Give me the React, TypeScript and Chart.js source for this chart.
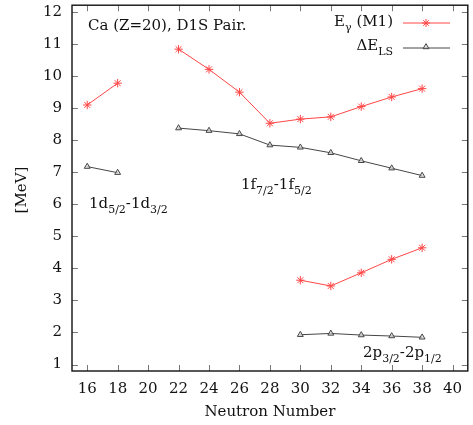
import React, { useEffect, useRef } from 'react';
import { Chart, registerables } from 'chart.js';

Chart.register(...registerables);

// Data (Neutron number vs energy, MeV)
const neutronsD1F = [16, 18, 20, 22, 24, 26, 28, 30, 32, 34, 36, 38];
const eGammaD1F = [9.09, 9.77, null, 10.83, 10.2, 9.49, 8.52, 8.65, 8.72, 9.04, 9.34, 9.6];
const deltaLsD1F = [7.17, 6.98, null, 8.37, 8.29, 8.19, 7.84, 7.77, 7.6, 7.35, 7.12, 6.89];
const neutronsP = [30, 32, 34, 36, 38];
const eGammaP = [3.63, 3.45, 3.86, 4.28, 4.64];
const deltaLsP = [1.93, 1.97, 1.92, 1.89, 1.85];
const xTicks = [16, 18, 20, 22, 24, 26, 28, 30, 32, 34, 36, 38, 40];
const yTicks = [1, 2, 3, 4, 5, 6, 7, 8, 9, 10, 11, 12];

const FONT = '"DejaVu Serif", serif';
const RED = 'rgb(255,70,70)';
const GRAY = 'rgb(70,70,70)';
const TRI_FILL = 'rgba(215,215,215,0.7)';

type Part = { t: string; sub?: boolean };

function richWidth(ctx: CanvasRenderingContext2D, parts: Part[], size: number, subSize: number) {
  let w = 0;
  for (const p of parts) {
    ctx.font = `${p.sub ? subSize : size}px ${FONT}`;
    w += ctx.measureText(p.t).width;
  }
  return w;
}

function drawRich(
  ctx: CanvasRenderingContext2D,
  parts: Part[],
  x: number,
  y: number,
  size: number,
  subSize: number,
  align: 'left' | 'right'
) {
  let cx = align === 'right' ? x - richWidth(ctx, parts, size, subSize) : x;
  ctx.textAlign = 'left';
  ctx.textBaseline = 'middle';
  ctx.fillStyle = '#111';
  for (const p of parts) {
    ctx.font = `${p.sub ? subSize : size}px ${FONT}`;
    ctx.fillText(p.t, cx, p.sub ? y + size * 0.42 : y);
    cx += ctx.measureText(p.t).width;
  }
}

function drawStar(ctx: CanvasRenderingContext2D, x: number, y: number, r: number) {
  ctx.beginPath();
  ctx.moveTo(x - r, y);
  ctx.lineTo(x + r, y);
  ctx.moveTo(x, y - r);
  ctx.lineTo(x, y + r);
  const d = r * 0.707;
  ctx.moveTo(x - d, y - d);
  ctx.lineTo(x + d, y + d);
  ctx.moveTo(x - d, y + d);
  ctx.lineTo(x + d, y - d);
  ctx.stroke();
}

function drawTri(ctx: CanvasRenderingContext2D, x: number, y: number, r: number) {
  ctx.beginPath();
  ctx.moveTo(x, y - r);
  ctx.lineTo(x + r * 0.866, y + r * 0.5);
  ctx.lineTo(x - r * 0.866, y + r * 0.5);
  ctx.closePath();
  ctx.fill();
  ctx.stroke();
}

const decorPlugin = {
  id: 'decor',
  afterDraw(chart: any) {
    const ctx: CanvasRenderingContext2D = chart.ctx;
    const { left, right, top, bottom } = chart.chartArea;
    const xs = chart.scales.x;
    const ys = chart.scales.y;
    ctx.save();
    // ticks (inward, mirrored)
    ctx.strokeStyle = '#777';
    ctx.lineWidth = 1;
    ctx.beginPath();
    for (const v of xTicks) {
      const px = Math.round(xs.getPixelForValue(v)) + 0.5;
      ctx.moveTo(px, bottom);
      ctx.lineTo(px, bottom - 6);
      ctx.moveTo(px, top);
      ctx.lineTo(px, top + 6);
    }
    for (const v of yTicks) {
      const py = Math.round(ys.getPixelForValue(v)) + 0.5;
      ctx.moveTo(left, py);
      ctx.lineTo(left + 6, py);
      ctx.moveTo(right, py);
      ctx.lineTo(right - 6, py);
    }
    ctx.stroke();
    // border
    ctx.strokeStyle = '#111';
    ctx.lineWidth = 1.4;
    ctx.strokeRect(left, top, right - left, bottom - top);

    // axis titles
    ctx.fillStyle = '#111';
    ctx.font = `15px ${FONT}`;
    ctx.textAlign = 'center';
    ctx.textBaseline = 'middle';
    ctx.fillText('Neutron Number', (left + right) / 2, 412);
    ctx.save();
    ctx.translate(22, 190);
    ctx.rotate(-Math.PI / 2);
    ctx.fillText('[MeV]', 0, 0);
    ctx.restore();

    // title
    ctx.font = `15px ${FONT}`;
    ctx.textAlign = 'left';
    ctx.fillText('Ca (Z=20), D1S Pair.', 88, 26);

    // legend
    drawRich(ctx, [{ t: 'E' }, { t: 'γ', sub: true }, { t: ' (M1)' }], 393, 22, 15, 11, 'right');
    drawRich(ctx, [{ t: 'ΔE' }, { t: 'LS', sub: true }], 393, 46, 15, 11, 'right');
    ctx.lineWidth = 1;
    ctx.strokeStyle = RED;
    ctx.beginPath();
    ctx.moveTo(403, 23);
    ctx.lineTo(450, 23);
    ctx.stroke();
    drawStar(ctx, 426, 23, 4);
    ctx.strokeStyle = GRAY;
    ctx.beginPath();
    ctx.moveTo(403, 48);
    ctx.lineTo(450, 48);
    ctx.stroke();
    ctx.fillStyle = TRI_FILL;
    drawTri(ctx, 426, 47, 3.4);

    // shell labels
    drawRich(ctx, [{ t: '1d' }, { t: '5/2', sub: true }, { t: '-1d' }, { t: '3/2', sub: true }], 89, 204, 15, 11, 'left');
    drawRich(ctx, [{ t: '1f' }, { t: '7/2', sub: true }, { t: '-1f' }, { t: '5/2', sub: true }], 241, 185, 15, 11, 'left');
    drawRich(ctx, [{ t: '2p' }, { t: '3/2', sub: true }, { t: '-2p' }, { t: '1/2', sub: true }], 363, 353, 15, 11, 'left');
    ctx.restore();
  },
};

export default function App() {
  const ref = useRef<HTMLCanvasElement | null>(null);
  useEffect(() => {
    if (!ref.current) return;
    const toPts = (xs: number[], ys: (number | null)[]) => xs.map((x, i) => ({ x, y: ys[i] }));
    const starDs = (data: any) => ({
      data,
      borderColor: RED,
      borderWidth: 1,
      pointStyle: 'star',
      pointRadius: 4.2,
      pointBorderColor: RED,
      pointBorderWidth: 1,
      pointBackgroundColor: RED,
      spanGaps: false,
    });
    const triDs = (data: any) => ({
      data,
      borderColor: GRAY,
      borderWidth: 1,
      pointStyle: 'triangle',
      pointRadius: 3.4,
      pointBorderColor: GRAY,
      pointBorderWidth: 1,
      pointBackgroundColor: TRI_FILL,
      spanGaps: false,
    });
    const chart = new Chart(ref.current, {
      type: 'line',
      data: {
        datasets: [
          triDs(toPts(neutronsD1F, deltaLsD1F)),
          triDs(toPts(neutronsP, deltaLsP)),
          starDs(toPts(neutronsD1F, eGammaD1F)),
          starDs(toPts(neutronsP, eGammaP)),
        ] as any,
      },
      options: {
        animation: false,
        responsive: false,
        devicePixelRatio: 1,
        layout: { padding: { left: 0, top: 5, right: 5, bottom: 0 } },
        plugins: { legend: { display: false }, tooltip: { enabled: false } },
        scales: {
          x: {
            type: 'linear',
            min: 15,
            max: 41,
            grid: { display: false, drawTicks: false },
            border: { display: false },
            afterBuildTicks: (s: any) => {
              s.ticks = xTicks.map((v) => ({ value: v }));
            },
            afterFit: (s: any) => {
              s.height = 54;
              s.paddingLeft = 0;
              s.paddingRight = 0;
            },
            ticks: {
              autoSkip: false,
              maxRotation: 0,
              padding: 9,
              color: '#111',
              font: { family: FONT, size: 15 },
            },
          },
          y: {
            type: 'linear',
            min: 0.8,
            max: 12.2,
            grid: { display: false, drawTicks: false },
            border: { display: false },
            afterBuildTicks: (s: any) => {
              s.ticks = yTicks.map((v) => ({ value: v }));
            },
            afterFit: (s: any) => {
              s.width = 72;
              s.paddingTop = 0;
              s.paddingBottom = 0;
            },
            ticks: {
              padding: 10,
              color: '#111',
              font: { family: FONT, size: 15 },
            },
          },
        },
      } as any,
      plugins: [decorPlugin],
    });
    return () => chart.destroy();
  }, []);
  return (
    <div style={{ position: 'fixed', left: 0, top: 0, width: 473, height: 425, background: '#fff' }}>
      <canvas ref={ref} width={473} height={425} style={{ width: 473, height: 425, display: 'block' }} />
    </div>
  );
}
